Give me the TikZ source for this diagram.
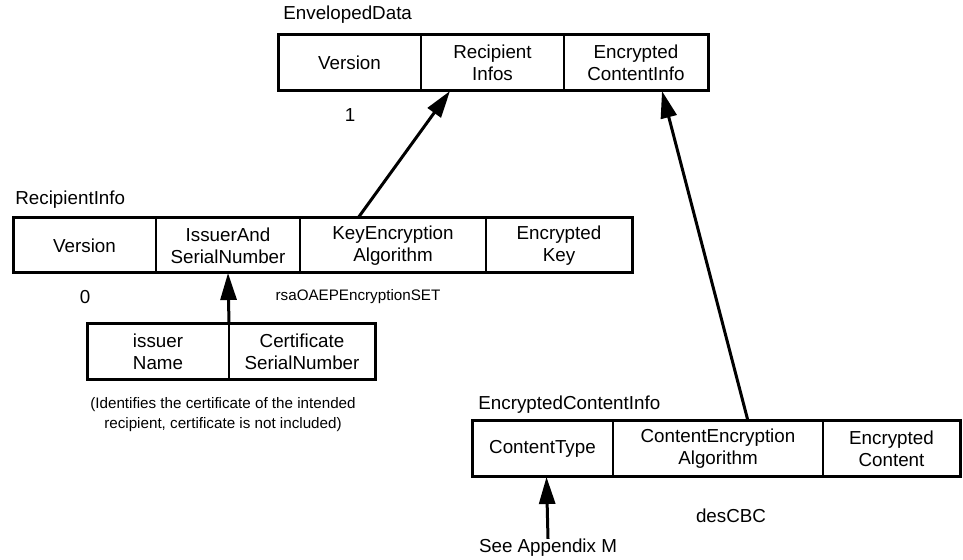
\documentclass[tikz,border=0pt]{standalone}
\usepackage{fontspec}
\setmainfont{Liberation Sans}
\usetikzlibrary{positioning,arrows.meta}
\newcommand\cellfont{\fontsize{9.4}{11}\selectfont}
\newcommand\notefont{\fontsize{7.6}{10}\selectfont}
\begin{document}
\begin{tikzpicture}[x=0.5pt, y=-0.5pt,
  cell/.style={rectangle, draw, line width=1pt, minimum height=28pt,
    inner sep=0pt, outer sep=0pt, align=center, font=\cellfont},
  frame/.style={draw, line width=1.5pt},
  arr/.style={-{Triangle[length=13.5pt, width=8pt]}, line width=1.5pt},
  title/.style={font=\cellfont, anchor=west, inner sep=0pt},
  lbl/.style={font=\cellfont, inner sep=0pt},
  note/.style={font=\notefont, inner sep=0pt, align=center},
]
\useasboundingbox (0,0) rectangle (963,560);

% EnvelopedData
\node[title] (envtitle) at (283,15) {EnvelopedData};
\node[cell, minimum width=71.5pt, anchor=north west] (ever) at (278,35) {Version};
\node[cell, minimum width=71.5pt, right=0pt of ever] (erinfos) {Recipient\\Infos};
\node[cell, minimum width=72pt, right=0pt of erinfos] (eeci) {Encrypted\\ContentInfo};
\draw[frame] (ever.north west) rectangle (eeci.south east);
\node[lbl] (evernum) at (350,115) {1};

% RecipientInfo
\node[title] (ritle) at (15,200) {RecipientInfo};
\node[cell, minimum width=71.5pt, minimum height=27.5pt, anchor=north west] (rver) at (13,218) {Version};
\node[cell, minimum width=72pt, minimum height=27.5pt, right=0pt of rver] (rias) {IssuerAnd\\SerialNumber};
\node[cell, minimum width=93pt, minimum height=27.5pt, right=0pt of rias] (rkea) {KeyEncryption\\Algorithm};
\node[cell, minimum width=73pt, minimum height=27.5pt, right=0pt of rkea] (rkey) {Encrypted\\Key};
\draw[frame] (rver.north west) rectangle (rkey.south east);
\node[lbl] (rvernum) at (85,297) {0};
\node[note] (rkeaval) at (358,297) {rsaOAEPEncryptionSET};

% IssuerAndSerialNumber
\node[cell, minimum width=71pt, anchor=north west] (iname) at (87,324) {issuer\\Name};
\node[cell, minimum width=73pt, right=0pt of iname] (iserial) {Certificate\\SerialNumber};
\draw[frame] (iname.north west) rectangle (iserial.south east);
\node[note] (inote) at (223,415) {(Identifies the certificate of the intended\\recipient, certificate is not included)};

% EncryptedContentInfo
\node[title] (ectitle) at (478,405) {EncryptedContentInfo};
\node[cell, minimum width=70.5pt, anchor=north west] (ctype) at (472,421) {ContentType};
\node[cell, minimum width=105pt, right=0pt of ctype] (cealg) {ContentEncryption\\Algorithm};
\node[cell, minimum width=68.5pt, right=0pt of cealg] (ccont) {Encrypted\\Content};
\draw[frame] (ctype.north west) rectangle (ccont.south east);
\node[lbl] (cealgval) at (731,516) {desCBC};
\node[lbl] (seeapp) at (548,548) {See Appendix M};

% Arrows
\draw[arr] ([xshift=-17.5pt]rkea.north) -- ([xshift=-21.25pt]erinfos.south);
\draw[arr] ([xshift=15pt]cealg.north) -- ([xshift=13pt]eeci.south);
\draw[arr] (iname.north east) -- (rias.south);
\draw[arr] (seeapp.north) -- ([xshift=2pt]ctype.south);
\end{tikzpicture}
\end{document}
